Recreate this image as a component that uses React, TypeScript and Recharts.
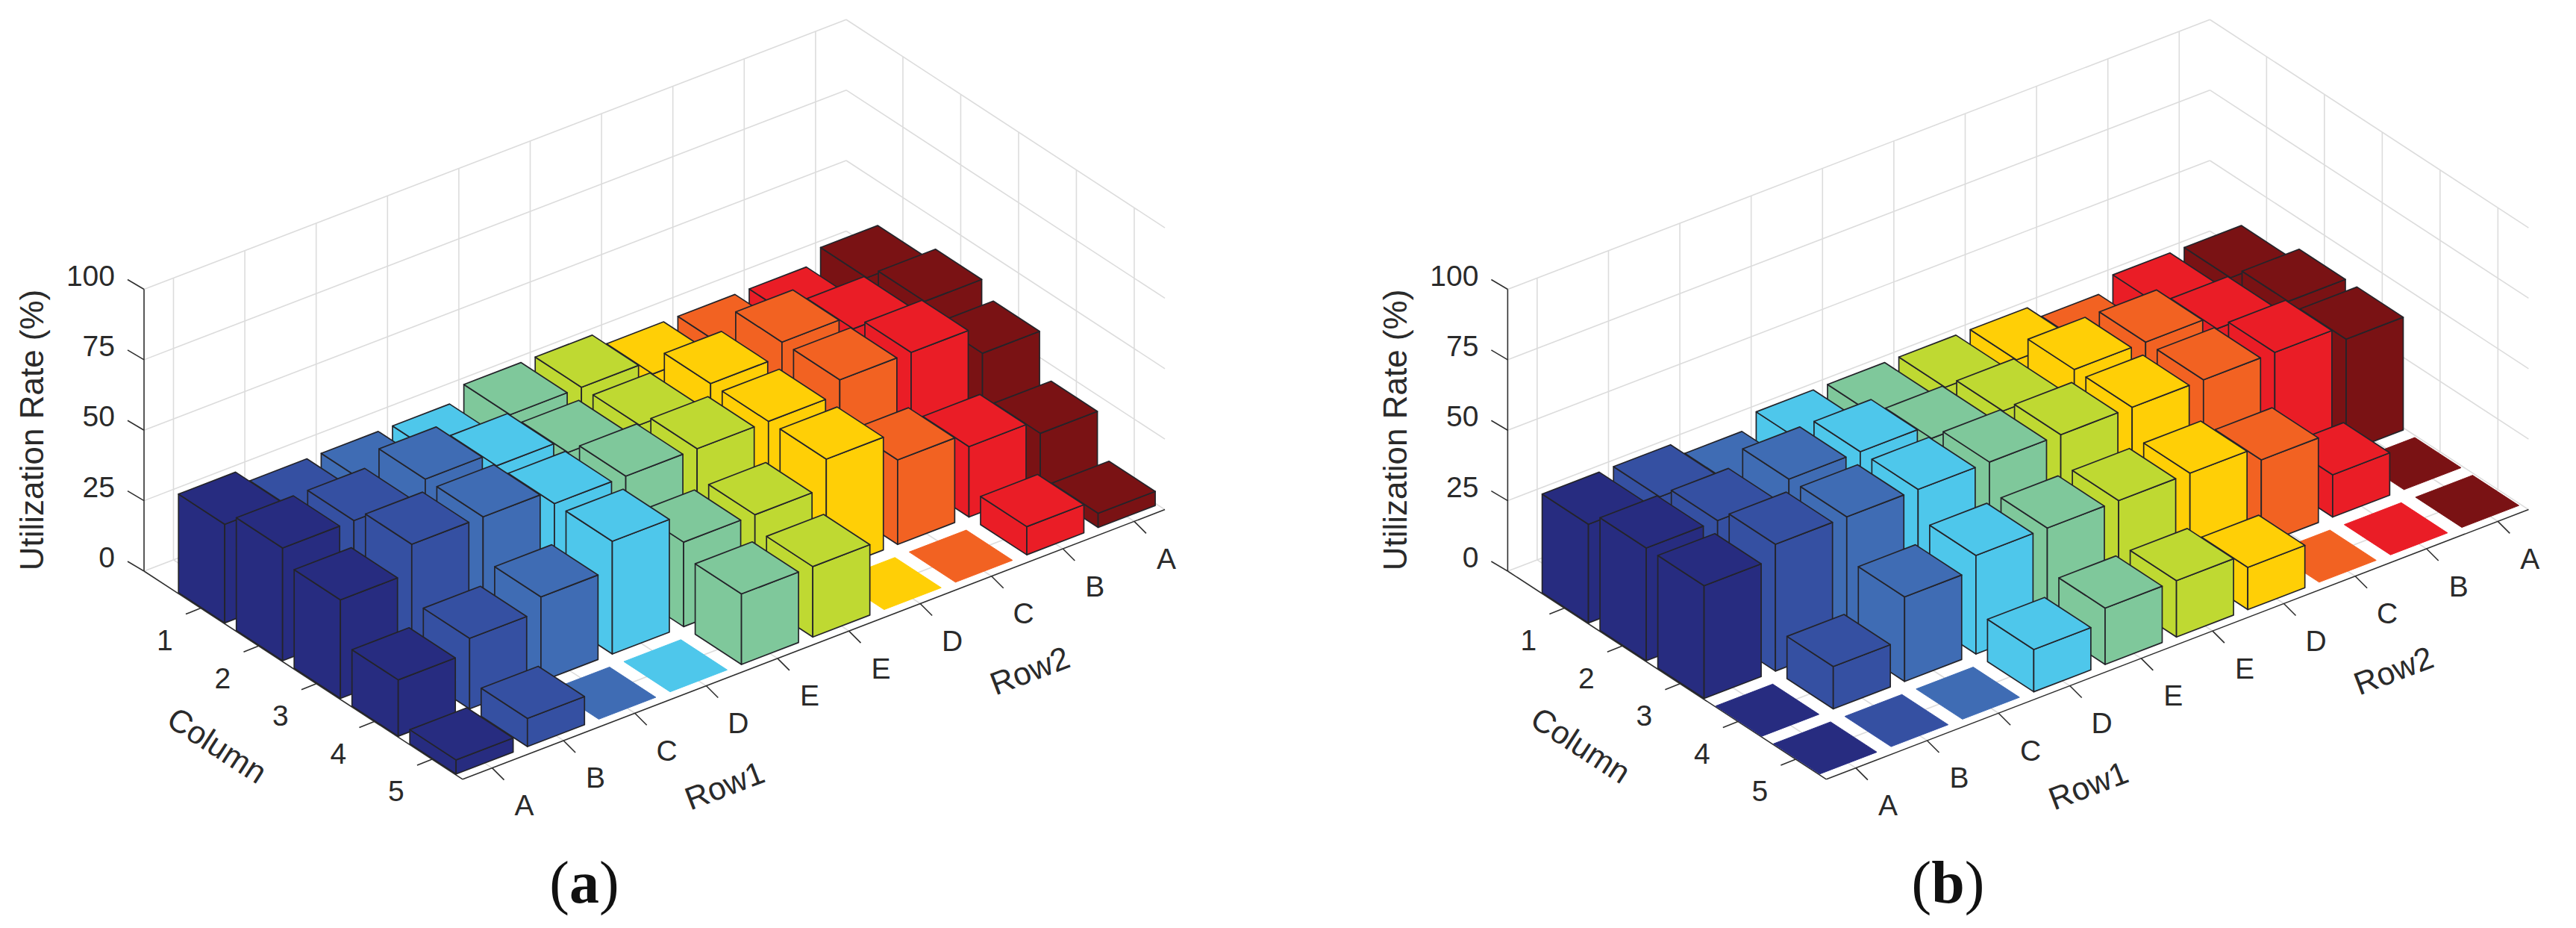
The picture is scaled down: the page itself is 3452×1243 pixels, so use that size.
import { ScatterChart, Scatter, XAxis, YAxis } from 'recharts';

const columns = [1, 2, 3, 4, 5];
const rowLabels = ['A', 'B', 'C', 'D', 'E', 'E', 'D', 'C', 'B', 'A'];
const rowPositions = [1, 2, 3, 4, 5, 6, 7, 8, 9, 10];
const rowColors = ['#272c80', '#3550a2', '#3f6cb4', '#4ec7eb', '#7fc89b', '#bfd932', '#ffcf06', '#f26222', '#ea1d26', '#7a1214'];
const zTicks = [0, 25, 50, 75, 100];

// utilization per row, columns 1 to 5
const panelA = [
  [35, 40, 35, 20, 5],
  [30, 40, 45, 25, 10],
  [30, 45, 45, 30, 0],
  [30, 40, 40, 40, 0],
  [35, 35, 40, 30, 25],
  [35, 35, 40, 30, 25],
  [30, 40, 40, 40, 0],
  [30, 45, 45, 30, 0],
  [30, 40, 45, 25, 10],
  [35, 40, 35, 20, 5],
];
const panelB = [
  [35, 40, 40, 0, 0],
  [35, 40, 45, 15, 0],
  [30, 45, 45, 30, 0],
  [35, 45, 45, 35, 15],
  [35, 40, 45, 35, 20],
  [35, 40, 45, 35, 20],
  [35, 45, 45, 35, 15],
  [30, 45, 45, 30, 0],
  [35, 40, 45, 15, 0],
  [35, 40, 40, 0, 0],
];

const CHART_W = 1726;
const CHART_H = 1243;
const FONT = '"Liberation Sans", Arial, sans-serif';

// fixed view of the 3d box
const colMin = 0.02;
const colMax = 5.53;
const rowMin = 0.587;
const rowMax = 10.43;
const colDx = 77.5;
const colDy = 50.6;
const rowDx = 95.6;
const rowDy = -36.7;
const zPx = 3.775;
const floorY = 765;

const project = (ox: number, col: number, row: number, z: number) => ({
  px: ox + (col - colMin) * colDx + (row - rowMin) * rowDx,
  py: floorY + (col - colMin) * colDy + (row - rowMin) * rowDy - z * zPx,
});

const nothing = () => <g />;

const BarShape = (props: any) => {
  const { cx, cy, payload } = props;
  const h = payload.value;
  const at = (dc: number, dr: number, dz: number) =>
    `${cx + dc * colDx + dr * rowDx},${cy + dc * colDy + dr * rowDy - dz * zPx}`;
  const w = 0.4;
  const edge = h > 0 ? '#24242a' : payload.fill;
  const style = { fill: payload.fill, stroke: edge, strokeWidth: h > 0 ? 1.7 : 1, strokeLinejoin: 'round' as const };
  return (
    <g>
      {h > 0 && <polygon points={[at(-w, -w, 0), at(w, -w, 0), at(w, -w, h), at(-w, -w, h)].join(' ')} {...style} />}
      {h > 0 && <polygon points={[at(w, -w, 0), at(w, w, 0), at(w, w, h), at(w, -w, h)].join(' ')} {...style} />}
      <polygon points={[at(-w, -w, h), at(w, -w, h), at(w, w, h), at(-w, w, h)].join(' ')} {...style} />
    </g>
  );
};

const TextShape = (props: any) => {
  const { cx, cy, payload } = props;
  return (
    <text
      x={cx}
      y={cy}
      fontFamily={payload.font || FONT}
      fontSize={payload.fontSize}
      fill={payload.color || '#2a2a2a'}
      textAnchor={payload.anchor || 'middle'}
      dominantBaseline="central"
      transform={payload.rotate ? `rotate(${payload.rotate} ${cx} ${cy})` : undefined}
    >
      {payload.bold ? (
        <>
          (<tspan fontWeight="bold">{payload.text}</tspan>)
        </>
      ) : (
        payload.text
      )}
    </text>
  );
};

const gridSegments = (ox: number) => {
  const segs: any[] = [];
  zTicks.forEach((z) => {
    segs.push([project(ox, colMin, rowMin, z), project(ox, colMin, rowMax, z)]);
    segs.push([project(ox, colMin, rowMax, z), project(ox, colMax, rowMax, z)]);
  });
  rowPositions.forEach((r) => {
    segs.push([project(ox, colMin, r, 0), project(ox, colMin, r, 100)]);
    segs.push([project(ox, colMin, r, 0), project(ox, colMax, r, 0)]);
  });
  columns.forEach((c) => {
    segs.push([project(ox, c, rowMax, 0), project(ox, c, rowMax, 100)]);
    segs.push([project(ox, c, rowMin, 0), project(ox, c, rowMax, 0)]);
  });
  return segs;
};

const axisSegments = (ox: number) => {
  const segs: any[] = [
    [project(ox, colMin, rowMin, 0), project(ox, colMin, rowMin, 100)],
    [project(ox, colMin, rowMin, 0), project(ox, colMax, rowMin, 0)],
    [project(ox, colMax, rowMin, 0), project(ox, colMax, rowMax, 0)],
  ];
  const shift = (p: any, dx: number, dy: number) => ({ px: p.px + dx, py: p.py + dy });
  zTicks.forEach((z) => {
    const p = project(ox, colMin, rowMin, z);
    segs.push([p, shift(p, -22, -13)]);
  });
  columns.forEach((c) => {
    const p = project(ox, c, rowMin, 0);
    segs.push([p, shift(p, -20, 8)]);
  });
  rowPositions.forEach((r) => {
    const p = project(ox, colMax, r, 0);
    segs.push([p, shift(p, 16, 16)]);
  });
  return segs;
};

const tickTexts = (ox: number, caption: string) => {
  const out: any[] = [];
  zTicks.forEach((z) => {
    const p = project(ox, colMin, rowMin, z);
    out.push({ px: p.px - 39, py: p.py - 18.5, text: String(z), fontSize: 39, anchor: 'end' });
  });
  columns.forEach((c) => {
    const p = project(ox, c, rowMin, 0);
    out.push({ px: p.px - 48, py: p.py + 43, text: String(c), fontSize: 39 });
  });
  rowPositions.forEach((r, i) => {
    const p = project(ox, colMax, r, 0);
    out.push({ px: p.px + 43, py: p.py + 50, text: rowLabels[i], fontSize: 39 });
  });
  out.push({ px: ox - 151, py: 576, text: 'Utilization Rate (%)', fontSize: 44, rotate: -90 });
  out.push({ px: ox + 98, py: 998, text: 'Column', fontSize: 43, rotate: 33 });
  out.push({ px: ox + 778, py: 1052, text: 'Row1', fontSize: 43, rotate: -21 });
  out.push({ px: ox + 1187, py: 898, text: 'Row2', fontSize: 43, rotate: -21 });
  out.push({ px: ox + 590, py: 1182, text: caption, fontSize: 80, bold: true, font: '"Liberation Serif", serif', color: '#111' });
  return out;
};

const Panel = ({ values, ox, caption, left }: { values: number[][]; ox: number; caption: string; left: number }) => {
  // painter's order: back row first, low column first
  const order = rowPositions.map((_, i) => rowPositions.length - 1 - i);
  return (
    <div style={{ position: 'absolute', left, top: 0 }}>
      <ScatterChart width={CHART_W} height={CHART_H} margin={{ top: 0, right: 0, bottom: 0, left: 0 }}>
        <XAxis type="number" dataKey="px" domain={[0, CHART_W]} hide allowDataOverflow />
        <YAxis type="number" dataKey="py" domain={[0, CHART_H]} reversed hide allowDataOverflow />
        {gridSegments(ox).map((seg, i) => (
          <Scatter key={`grid-${i}`} data={seg} shape={nothing} line={{ stroke: '#dcdcdc', strokeWidth: 1.6 }} isAnimationActive={false} />
        ))}
        {axisSegments(ox).map((seg, i) => (
          <Scatter key={`axis-${i}`} data={seg} shape={nothing} line={{ stroke: '#2f2f2f', strokeWidth: 1.6 }} isAnimationActive={false} />
        ))}
        {order.map((r) => (
          <Scatter
            key={`row-${r}`}
            data={columns.map((c, ci) => ({
              ...project(ox, c, rowPositions[r], 0),
              value: values[r][ci],
              fill: rowColors[r],
            }))}
            shape={BarShape}
            isAnimationActive={false}
          />
        ))}
        <Scatter data={tickTexts(ox, caption)} shape={TextShape} isAnimationActive={false} />
      </ScatterChart>
    </div>
  );
};

export default function App() {
  return (
    <div style={{ position: 'absolute', left: 0, top: 0, width: 3452, height: 1243, background: '#fff' }}>
      <Panel values={panelA} ox={193} caption="a" left={0} />
      <Panel values={panelB} ox={294.4} caption="b" left={1726} />
    </div>
  );
}
